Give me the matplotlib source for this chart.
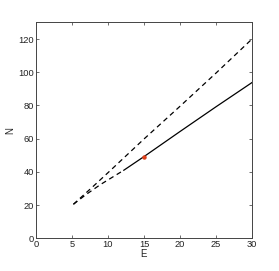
import matplotlib
matplotlib.use("Agg")
import matplotlib.pyplot as plt

# Data
upper_E = [5.2, 8, 10, 15, 20, 25, 30]
upper_N = [20.5, 31.5, 39.5, 59.8, 79.5, 99.5, 120]
lower_dash_E = [5.2, 7, 9, 12.2]
lower_dash_N = [20.5, 26.5, 32.5, 41]
lower_solid_E = [12.2, 15, 20, 25, 30]
lower_solid_N = [41, 49.2, 64.3, 79.2, 93.8]
point_E = [15]
point_N = [49.2]
xticks = [0, 5, 10, 15, 20, 25, 30]
yticks = [0, 20, 40, 60, 80, 100, 120]

plt.rcParams['font.family'] = ['Liberation Sans', 'DejaVu Sans']
fig = plt.figure(figsize=(2.79, 2.71), dpi=100)
ax = fig.add_axes([0.129, 0.1207, 0.774, 0.7963])

dash = (0, (4, 3))
ax.plot(upper_E, upper_N, color='black', lw=0.9, linestyle=dash)
ax.plot(lower_dash_E, lower_dash_N, color='black', lw=0.9, linestyle=dash)
ax.plot(lower_solid_E, lower_solid_N, color='black', lw=0.9)
ax.plot(point_E, point_N, 'o', color='#e0401a', markersize=3.2, markeredgewidth=0)

ax.set_xlim(0, 30)
ax.set_ylim(0, 130)
ax.set_xticks(xticks)
ax.set_yticks(yticks)
ax.tick_params(direction='in', length=2.5, width=0.5, labelsize=6.7,
               top=True, right=True, pad=1.5, colors='#333333', labelcolor='#222222')
for s in ax.spines.values():
    s.set_linewidth(0.7)
    s.set_color('#444444')
ax.set_xlabel('E', fontsize=7, labelpad=0, color='#222222')
ax.set_ylabel('N', fontsize=7, labelpad=2, color='#222222')

fig.savefig('out.png', dpi=100)
